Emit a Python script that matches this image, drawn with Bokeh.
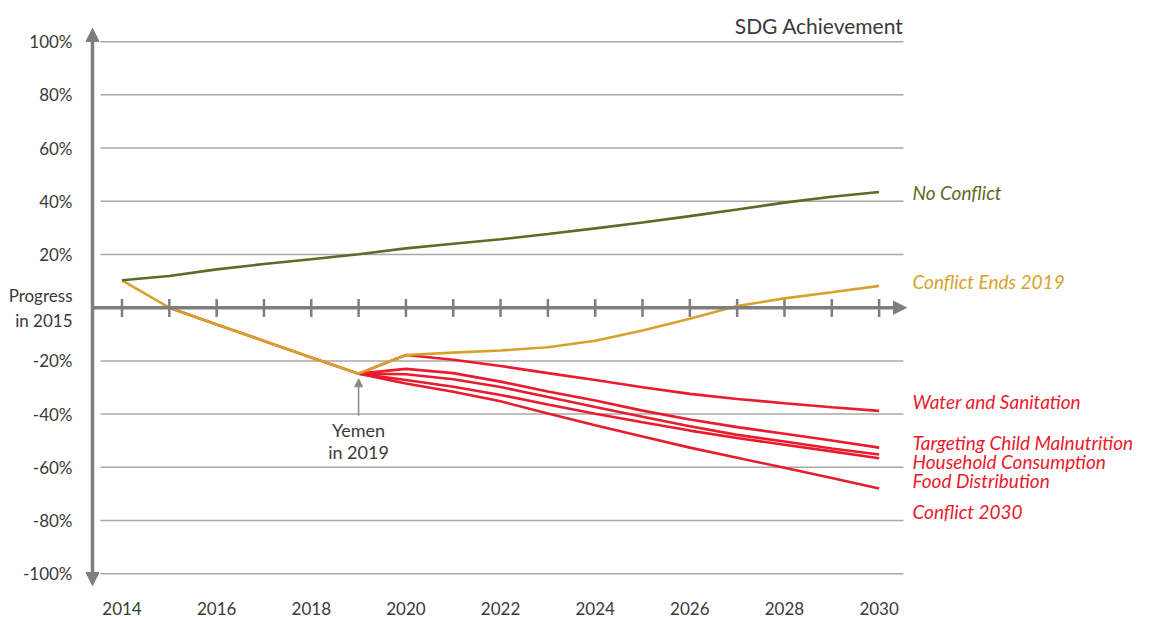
from bokeh.plotting import figure
from bokeh.models import Range1d, FixedTicker, Label, Arrow, NormalHead
from bokeh.core.properties import value
from bokeh.embed import file_html
from bokeh.resources import INLINE

# ---------------- data ----------------
years_all = list(range(2014, 2031))
no_conflict = [10.3, 11.9, 14.4, 16.4, 18.2, 20.1, 22.3, 24.0, 25.7, 27.7,
               29.8, 32.0, 34.4, 36.9, 39.5, 41.7, 43.5]
conflict_ends_2019 = [10.3, 0.0, -6.3, -12.5, -18.7, -24.8, -17.8, -16.9, -16.1,
                      -14.9, -12.4, -8.6, -4.2, 0.6, 3.5, 5.8, 8.2]

years_hist = [2015, 2016, 2017, 2018, 2019]
conflict_hist = [0.0, -6.3, -12.5, -18.7, -24.8]

years_proj = list(range(2019, 2031))
water_sanitation = [-24.8, -17.8, -19.6, -21.9, -24.6, -27.2, -29.9, -32.4, -34.3, -35.9, -37.4, -38.8]
targeting_child = [-24.8, -23.0, -24.6, -27.8, -31.5, -34.9, -38.7, -42.0, -44.9, -47.4, -49.9, -52.6]
household_cons = [-24.8, -25.0, -26.9, -29.8, -33.6, -37.3, -41.0, -44.6, -47.8, -50.3, -52.9, -55.2]
food_distrib = [-24.8, -27.2, -29.7, -32.8, -36.4, -39.9, -43.1, -46.2, -49.0, -51.5, -54.0, -56.6]
conflict_2030 = [-24.8, -28.5, -31.6, -35.2, -39.8, -44.2, -48.4, -52.6, -56.4, -60.2, -64.0, -68.0]

series_names = ["No Conflict", "Conflict Ends 2019", "Water and Sanitation",
                "Targeting Child Malnutrition", "Household Consumption",
                "Food Distribution", "Conflict 2030"]

y_ticks = [-100, -80, -60, -40, -20, 0, 20, 40, 60, 80, 100]
x_ticks = [2014, 2016, 2018, 2020, 2022, 2024, 2026, 2028, 2030]

# ---------------- layout helpers ----------------
W, H = 1149, 617
PX_YR = 47.32
X2014 = 121.5          # px of 2014
Y0 = 307.7             # px of 0 %
PX_PCT = 2.665         # px per 1 %


def dx(px):
    return 2014 + (px - X2014) / PX_YR


def dy(py):
    return (Y0 - py) / PX_PCT


OLIVE = "#5f6a27"
GOLD = "#d7a22b"
RED = "#e91b2d"
AXIS = "#7e7e80"
GRID = "#a8a8a8"
TXT = "#3a3a3a"
FONT = "Lato"

p = figure(width=W, height=H,
           x_range=Range1d(dx(84), dx(1149)), y_range=Range1d(dy(587), dy(4)),
           min_border_left=84, min_border_right=0, min_border_top=4,
           min_border_bottom=30, toolbar_location=None, output_backend="svg")
p.grid.visible = False
p.outline_line_color = None
p.background_fill_color = "white"
p.border_fill_color = "white"

# y axis labels
p.yaxis.ticker = FixedTicker(ticks=y_ticks)
ov = {t: f"{t}%" for t in y_ticks}
ov[0] = "Progress\nin 2015"
p.yaxis.major_label_overrides = ov
p.yaxis.axis_line_color = None
p.yaxis.major_tick_line_color = None
p.yaxis.minor_tick_line_color = None
p.yaxis.major_label_standoff = 6
p.yaxis.major_label_text_font = FONT
p.yaxis.major_label_text_font_size = "17px"
p.yaxis.major_label_text_color = TXT

# x axis labels
p.xaxis.ticker = FixedTicker(ticks=x_ticks)
p.xaxis.axis_line_color = None
p.xaxis.major_tick_line_color = None
p.xaxis.minor_tick_line_color = None
p.xaxis.major_label_standoff = 9
p.xaxis.major_label_text_font = FONT
p.xaxis.major_label_text_font_size = "17px"
p.xaxis.major_label_text_color = TXT

# gridlines
levels = [t for t in y_ticks if t != 0]
p.segment(x0=[dx(100)] * len(levels), y0=levels, x1=[dx(903)] * len(levels), y1=levels,
          line_color=GRID, line_width=1.5)

# axis arrows
p.add_layout(Arrow(start=NormalHead(size=13, fill_color=AXIS, line_color=AXIS),
                   end=NormalHead(size=13, fill_color=AXIS, line_color=AXIS),
                   x_start=dx(92), y_start=dy(586), x_end=dx(92), y_end=dy(28),
                   line_color=AXIS, line_width=3.5))
p.add_layout(Arrow(end=NormalHead(size=13, fill_color=AXIS, line_color=AXIS),
                   x_start=dx(92), y_start=0, x_end=dx(906), y_end=0,
                   line_color=AXIS, line_width=3.5))
# year ticks
yrs = list(range(2014, 2031))
p.segment(x0=yrs, y0=[dy(317)] * len(yrs), x1=yrs, y1=[dy(299)] * len(yrs),
          line_color=AXIS, line_width=2.5)

# data lines
LW = 2.6
p.line(years_hist, conflict_hist, line_color=RED, line_width=LW)
for s in [conflict_2030, food_distrib, household_cons, targeting_child, water_sanitation]:
    p.line(years_proj, s, line_color=RED, line_width=LW)
p.line(years_all, conflict_ends_2019, line_color=GOLD, line_width=LW)
p.line(years_all, no_conflict, line_color=OLIVE, line_width=LW)

# series labels
label_py = [192, 281, 402, 443, 462, 481, 512]
label_cols = [OLIVE, GOLD, RED, RED, RED, RED, RED]
p.text(x=[dx(912)] * len(series_names), y=[dy(v) for v in label_py], text=series_names,
       text_color=label_cols, text_font=value(FONT), text_font_style="italic",
       text_font_size="19px", text_baseline="middle", text_align="left")

# title-like label
p.add_layout(Label(x=dx(903), y=dy(25), text="SDG Achievement", text_align="right",
                   text_baseline="middle", text_font=FONT, text_font_size="21px",
                   text_color=TXT))

# Yemen annotation
p.add_layout(Arrow(end=NormalHead(size=8, fill_color="#8a8a8a", line_color="#8a8a8a"),
                   x_start=2019, y_start=dy(416), x_end=2019, y_end=dy(379),
                   line_color="#8a8a8a", line_width=1.5))
p.add_layout(Label(x=dx(358), y=dy(430), text="Yemen", text_align="center",
                   text_baseline="middle", text_font=FONT, text_font_size="18px",
                   text_color=TXT))
p.add_layout(Label(x=dx(358), y=dy(452), text="in 2019", text_align="center",
                   text_baseline="middle", text_font=FONT, text_font_size="18px",
                   text_color=TXT))

open("out.html", "w").write(file_html(p, INLINE))
